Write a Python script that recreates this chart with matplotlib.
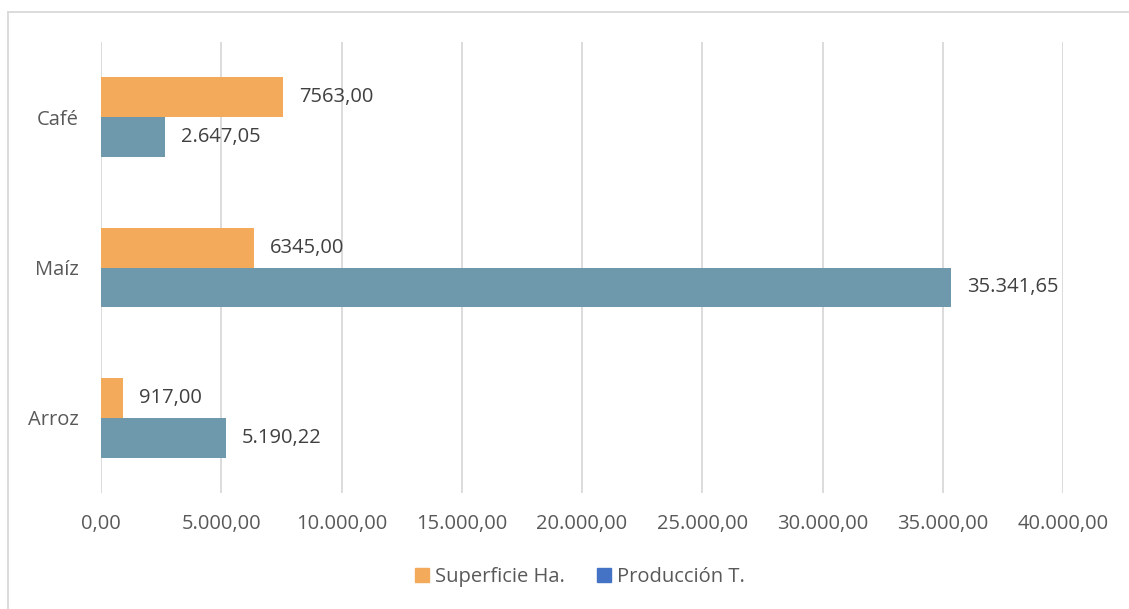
import numpy as np
import matplotlib.pyplot as plt
from matplotlib.lines import Line2D
from matplotlib.patches import Patch

# data
cultivos = ["Arroz", "Maíz", "Café"]
superficie = [917.00, 6345.00, 7563.00]
produccion = [5190.22, 35341.65, 2647.05]
etiq_superficie = ["917,00", "6345,00", "7563,00"]
etiq_produccion = ["5.190,22", "35.341,65", "2.647,05"]
ticks = [0, 5000, 10000, 15000, 20000, 25000, 30000, 35000, 40000]

c_sup = "#F4AA5B"
c_prod = "#6E98AB"
c_leg = "#4472C4"
txt = "#595959"
fs = 14.5

plt.rcParams['font.family'] = ['Open Sans', 'DejaVu Sans']

fig = plt.figure(figsize=(11.29, 6.09), dpi=100)
W, H = 1129, 609
ax = fig.add_axes([101 / W, 1 - 493 / H, (1063 - 101) / W, (493 - 42) / H])

y = np.arange(len(cultivos))
h = 0.265
ax.barh(y + h / 2, superficie, height=h, color=c_sup, zorder=3)
ax.barh(y - h / 2, produccion, height=h, color=c_prod, zorder=3)

for i in range(len(cultivos)):
    ax.annotate(etiq_superficie[i], (superficie[i], y[i] + h / 2), xytext=(16, 0),
                textcoords="offset pixels", va="center", ha="left", color="#404040", fontsize=fs)
    ax.annotate(etiq_produccion[i], (produccion[i], y[i] - h / 2), xytext=(16, 0),
                textcoords="offset pixels", va="center", ha="left", color="#404040", fontsize=fs)

ax.set_xlim(0, 40000)
ax.set_ylim(-0.5, 2.5)
ax.set_xticks(ticks)
ax.set_xticklabels([f"{t:,.2f}".replace(",", "X").replace(".", ",").replace("X", ".") for t in ticks])
ax.set_yticks(y)
ax.set_yticklabels(cultivos)
ax.tick_params(axis="both", length=0, labelsize=fs, labelcolor=txt)
ax.tick_params(axis="x", pad=15)
ax.tick_params(axis="y", pad=16)
ax.grid(axis="x", color="#D9D9D9", linewidth=1.3, zorder=0)
for s in ax.spines.values():
    s.set_visible(False)

handles = [Patch(color=c_sup, label="Superficie Ha."), Patch(color=c_leg, label="Producción T.")]
fig.legend(handles=handles, loc="center", bbox_to_anchor=(580 / W, 1 - 577 / H), ncol=2,
           frameon=False, fontsize=fs, labelcolor=txt, handlelength=0.7, handleheight=0.7,
           handletextpad=0.3, columnspacing=1.6)

# outer chart border (only left and top visible in the crop)
fig.add_artist(Line2D([8 / W, 8 / W], [0, 1 - 12 / H], color="#D9D9D9", linewidth=1.3))
fig.add_artist(Line2D([8 / W, 1], [1 - 12 / H, 1 - 12 / H], color="#D9D9D9", linewidth=1.3))

fig.savefig("out.png", dpi=100)
